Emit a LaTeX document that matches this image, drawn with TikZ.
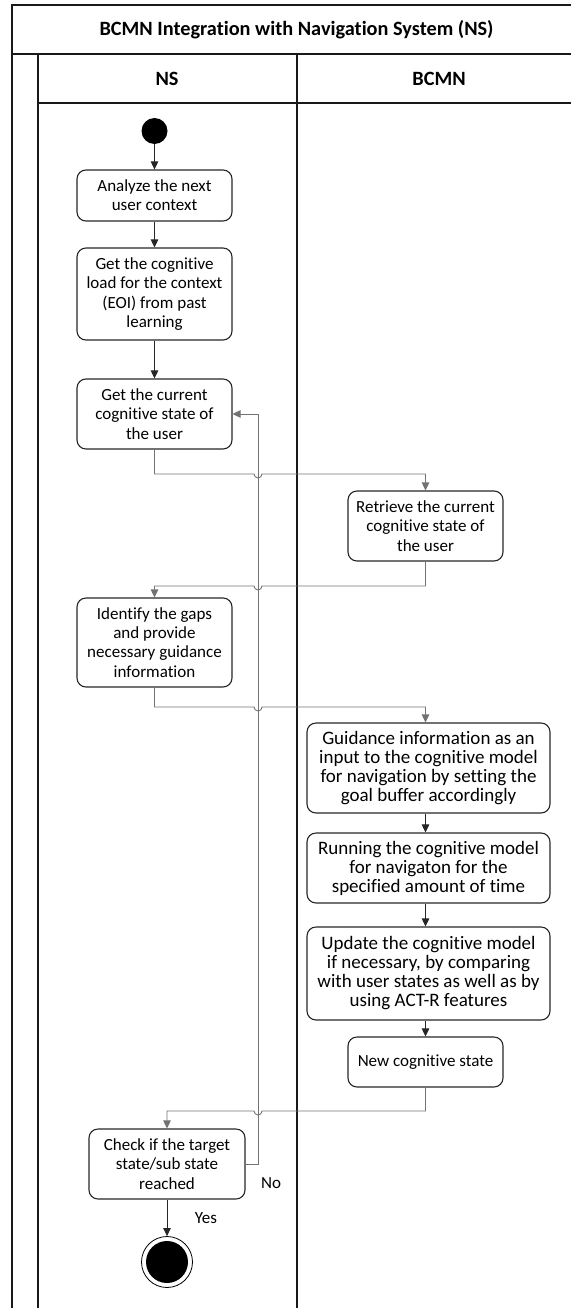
\documentclass[tikz,border=0pt]{standalone}
\usepackage{fontspec}
\setmainfont{Carlito}[Ligatures={NoCommon}]
\usetikzlibrary{arrows.meta,calc}
\begin{document}
\begin{tikzpicture}[x=1pt,y=-1pt,
  box/.style={draw=black!85,line width=1.1pt,rounded corners=9pt,align=center,inner xsep=0pt,inner ysep=2pt,font=\fontsize{17}{19.3}\selectfont},
  bigbox/.style={box,font=\fontsize{19}{19}\selectfont},
  lane/.style={line width=1.4pt,draw=black!90},
  arr/.style={draw=black!85,line width=0.9pt,-{Triangle[width=7.5pt,length=8pt]}},
  conn/.style={draw=black!55,line width=0.9pt,-{Triangle[width=7.5pt,length=8pt]}},
  lbl/.style={font=\fontsize{17}{19}\selectfont},
  hdr/.style={font=\fontsize{20.3}{22}\selectfont\bfseries}
]
\useasboundingbox (0,0) rectangle (571,1308);
% swimlane frame
\draw[lane] (12,1308) -- (12,5) -- (571,5);
\draw[lane] (12,54) -- (571,54);
\draw[lane] (38,54) -- (38,1308);
\draw[lane] (38,103) -- (571,103);
\draw[lane] (297,54) -- (297,1308);
\node[hdr] (title) at (296.5,30) {BCMN Integration with Navigation System (NS)};
\node[hdr] (ns) at (167,79) {NS};
\node[hdr] (bcmn) at (439,79) {BCMN};
% start / end
\node[circle,fill=black,minimum size=26pt,inner sep=0pt] (start) at (154.5,131) {};
\node[circle,draw=black,line width=0.8pt,minimum size=51pt,inner sep=0pt] (endo) at (167,1262) {};
\node[circle,fill=black,minimum size=42pt,inner sep=0pt] (endi) at (167,1262) {};
% boxes
\node[box,minimum width=155pt,minimum height=51pt] (b1) at (154.5,195.5) {Analyze the next\\user context};
\node[box,minimum width=155pt,minimum height=92pt] (b2) at (154.5,294) {Get the cognitive\\load for the context\\(EOI) from past\\learning};
\node[box,minimum width=155pt,minimum height=70pt] (b3) at (154.5,414) {Get the current\\cognitive state of\\the user};
\node[box,minimum width=155pt,minimum height=70pt] (b4) at (425.5,526) {Retrieve the current\\cognitive state of\\the user};
\node[box,minimum width=155pt,minimum height=89pt] (b5) at (154.5,642.5) {Identify the gaps\\and provide\\necessary guidance\\information};
\node[bigbox,minimum width=243pt,minimum height=90pt] (b6) at (428.5,768) {Guidance information as an\\input to the cognitive model\\for navigation by setting the\\goal buffer accordingly};
\node[bigbox,minimum width=243pt,minimum height=70pt] (b7) at (428.5,868) {Running the cognitive model\\for navigaton for the\\specified amount of time};
\node[bigbox,minimum width=243pt,minimum height=93pt] (b8) at (428.5,973.5) {Update the cognitive model\\if necessary, by comparing\\with user states as well as by\\using ACT-R features};
\node[box,minimum width=155pt,minimum height=50pt] (b9) at (425.5,1062) {New cognitive state};
\node[box,minimum width=156pt,minimum height=70pt] (b10) at (167,1164) {Check if the target\\state/sub state\\reached};
% loop coordinates
\coordinate (lx) at (258,0);
\coordinate (h1) at (258,474);
\coordinate (h2) at (258,586);
\coordinate (h3) at (258,707);
\coordinate (h4) at (258,1111);
% straight arrows
\draw[arr] (start) -- (b1);
\draw[arr] (b1) -- (b2);
\draw[arr] (b2) -- (b3);
\draw[arr] (b6.south -| b4.south) -- (b7.north -| b4.south);
\draw[arr] (b7.south -| b4.south) -- (b8.north -| b4.south);
\draw[arr] (b8.south -| b9.north) -- (b9.north);
\draw[arr] (b10) -- (endo);
% cross-lane connectors with hop-overs
\draw[conn] (b3.south) |- ([xshift=-4pt]h1) arc[start angle=180,end angle=360,radius=4pt] -| (b4.north);
\draw[conn] (b4.south) |- ([xshift=4pt]h2) arc[start angle=0,end angle=-180,radius=4pt] -| (b5.north);
\draw[conn] (b5.south) |- ([xshift=-4pt]h3) arc[start angle=180,end angle=360,radius=4pt] -| (b4.south |- b6.north);
\draw[conn] (b9.south) |- ([xshift=4pt]h4) arc[start angle=0,end angle=-180,radius=4pt] -| (b10.north);
% loop back
\draw[conn] (b10.east) -- (b10.east -| lx) -- (b3.east -| lx) -- (b3.east);
\node[lbl] (no) at (271,1183) {No};
\node[lbl] (yes) at (206,1218) {Yes};
\end{tikzpicture}
\end{document}
